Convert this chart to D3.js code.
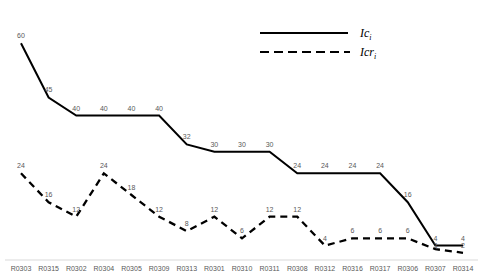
<!DOCTYPE html>
<html>
<head>
<meta charset="utf-8">
<script src="https://cdn.jsdelivr.net/npm/d3@7"></script>
<style>
  body { margin: 0; background: #fff; }
  svg { display: block; }
  .lbl { font-family: "Liberation Sans", Arial, sans-serif; font-size: 7px; fill: #595959; }
  .leg { font-family: "Liberation Serif", "Times New Roman", serif; font-style: italic; font-size: 12px; fill: #000; }
</style>
</head>
<body>
<div id="chart"></div>
<script>
const categories = ["R0303", "R0315", "R0302", "R0304", "R0305", "R0309", "R0313", "R0301", "R0310",
    "R0311", "R0308", "R0312", "R0316", "R0317", "R0306", "R0307", "R0314"];
const icValues = [60, 45, 40, 40, 40, 40, 32, 30, 30, 30, 24, 24, 24, 24, 16, 4, 4];
const icrValues = [24, 16, 12, 24, 18, 12, 8, 12, 6, 12, 12, 4, 6, 6, 6, 3, 2];

const W = 486, H = 278;

const svg = d3.select("#chart")
    .append("svg")
    .attr("width", W)
    .attr("height", H);

const x = d3.scalePoint()
    .domain(categories)
    .range([21, 463]);

const y = d3.scaleLinear()
    .domain([0, 60])
    .range([260, 43.3]);

// baseline
svg.append("line")
    .attr("x1", 5).attr("x2", 478)
    .attr("y1", y(0)).attr("y2", y(0))
    .attr("stroke", "#d9d9d9")
    .attr("stroke-width", 1);

// category labels
svg.append("g")
    .selectAll("text")
    .data(categories)
    .join("text")
    .attr("class", "lbl")
    .attr("x", d => x(d))
    .attr("y", 271)
    .attr("text-anchor", "middle")
    .text(d => d);

const line = d3.line()
    .x((d, i) => x(categories[i]))
    .y(d => y(d));

const icLabelY = d => y(d) - 5;
// keep Icr label clear of the Ic label when the two series almost meet
const icrLabelY = (d, i) => Math.max(y(d) - 5, icLabelY(icValues[i]) + 7);

const series = [
    { name: "Ic", values: icValues, dash: null, labelY: icLabelY },
    { name: "Icr", values: icrValues, dash: "7,5", labelY: icrLabelY }
];

series.forEach(s => {
    svg.append("path")
        .datum(s.values)
        .attr("fill", "none")
        .attr("stroke", "#000")
        .attr("stroke-width", s.dash ? 2.3 : 2)
        .attr("stroke-dasharray", s.dash)
        .attr("stroke-linejoin", "miter")
        .attr("d", line);

    svg.append("g")
        .selectAll("text")
        .data(s.values)
        .join("text")
        .attr("class", "lbl")
        .attr("x", (d, i) => x(categories[i]))
        .attr("y", (d, i) => s.labelY(d, i))
        .attr("text-anchor", "middle")
        .text(d => d);
});

// legend
const leg = svg.append("g");
leg.append("line")
    .attr("x1", 260).attr("x2", 348)
    .attr("y1", 33).attr("y2", 33)
    .attr("stroke", "#000").attr("stroke-width", 2);
leg.append("line")
    .attr("x1", 260).attr("x2", 350)
    .attr("y1", 52).attr("y2", 52)
    .attr("stroke", "#000").attr("stroke-width", 2)
    .attr("stroke-dasharray", "9,5");

const legText = (ty, main) => {
    const t = leg.append("text").attr("class", "leg").attr("x", 360).attr("y", ty);
    t.append("tspan").text(main);
    t.append("tspan").attr("font-size", "8px").attr("dy", 3).text("i");
};
legText(37, "Ic");
legText(56, "Icr");
</script>
</body>
</html>
